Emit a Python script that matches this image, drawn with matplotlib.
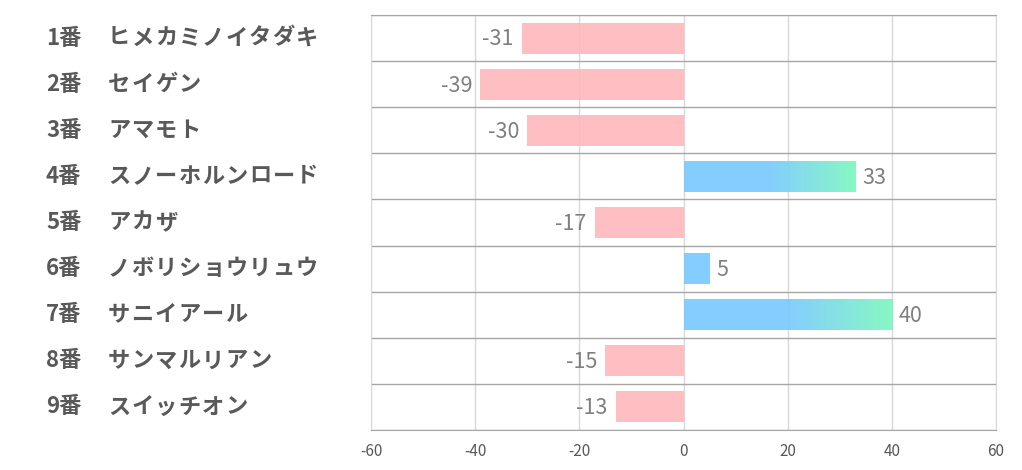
import matplotlib
matplotlib.use('Agg')
import matplotlib.pyplot as plt
import matplotlib.transforms as mtransforms
import numpy as np
from matplotlib.colors import LinearSegmentedColormap

plt.rcParams['font.family'] = ['Noto Sans CJK JP', 'DejaVu Sans']

# Data
numbers = ['1番', '2番', '3番', '4番', '5番', '6番', '7番', '8番', '9番']
names = ['ヒメカミノイタダキ', 'セイゲン', 'アマモト', 'スノーホルンロード', 'アカザ',
         'ノボリショウリュウ', 'サニイアール', 'サンマルリアン', 'スイッチオン']
values = [-31, -39, -30, 33, -17, 5, 40, -15, -13]
xticks = [-60, -40, -20, 0, 20, 40, 60]

pink = '#FFB9BC'
blue = '#79CAFF'
green = '#7DF7BE'
grad = LinearSegmentedColormap.from_list('bg', [(0, blue), (0.5, blue), (1.0, green)])

W, H = 1022, 470
fig = plt.figure(figsize=(W / 100, H / 100), dpi=100)
ax = fig.add_axes([371 / W, 40 / H, 625 / W, 415 / H])

n = len(values)
ypos = np.arange(n)
h = 0.67

# grid
for t in xticks:
    ax.axvline(t, color='#D9D9D9', lw=1, zorder=0)
for b in np.arange(n + 1) - 0.5:
    ax.axhline(b, color='#A6A6A6', lw=1, zorder=1)

bars = ax.barh(ypos, values, height=h, zorder=2, alpha=0.92,
               color=[pink if v < 0 else blue for v in values])

# gradient fill for the long positive bars
g = np.linspace(0, 1, 256).reshape(1, -1)
for y, v, bar in zip(ypos, values, bars):
    if v > 10:
        bar.set_facecolor('none')
        ax.imshow(g, cmap=grad, aspect='auto', extent=(0, v, y + h / 2, y - h / 2),
                  zorder=2, alpha=0.92, interpolation='bilinear')

ax.set_xlim(-60, 60)
ax.set_ylim(n - 0.5, -0.5)

# value labels
for y, v in zip(ypos, values):
    if v < 0:
        ax.annotate(str(v), (v, y), xytext=(-6, -1), textcoords='offset points',
                    ha='right', va='center', fontsize=15.5, color='#7F7F7F', zorder=3)
    else:
        ax.annotate(str(v), (v, y), xytext=(5, -1), textcoords='offset points',
                    ha='left', va='center', fontsize=15.5, color='#7F7F7F', zorder=3)

# category labels, kana spaced out like the original
trans = mtransforms.blended_transform_factory(fig.transFigure, ax.transData)
step = 23.5
for y, num, name in zip(ypos, numbers, names):
    ax.text(46 / W, y, num, transform=trans, fontsize=16,
            fontweight='bold', color='#595959', ha='left', va='center')
    for i, ch in enumerate(name):
        ax.text((108 + i * step) / W, y, ch, transform=trans, fontsize=16,
                fontweight='bold', color='#595959', ha='left', va='center')

ax.set_yticks([])
ax.set_xticks(xticks)
ax.set_xticklabels([str(t) for t in xticks], fontsize=11, color='#595959')
ax.tick_params(axis='x', length=0, pad=9)
for side in ['left', 'right']:
    ax.spines[side].set_color('#D9D9D9')
for side in ['top', 'bottom']:
    ax.spines[side].set_color('#A6A6A6')

fig.savefig('out.png', dpi=100)
